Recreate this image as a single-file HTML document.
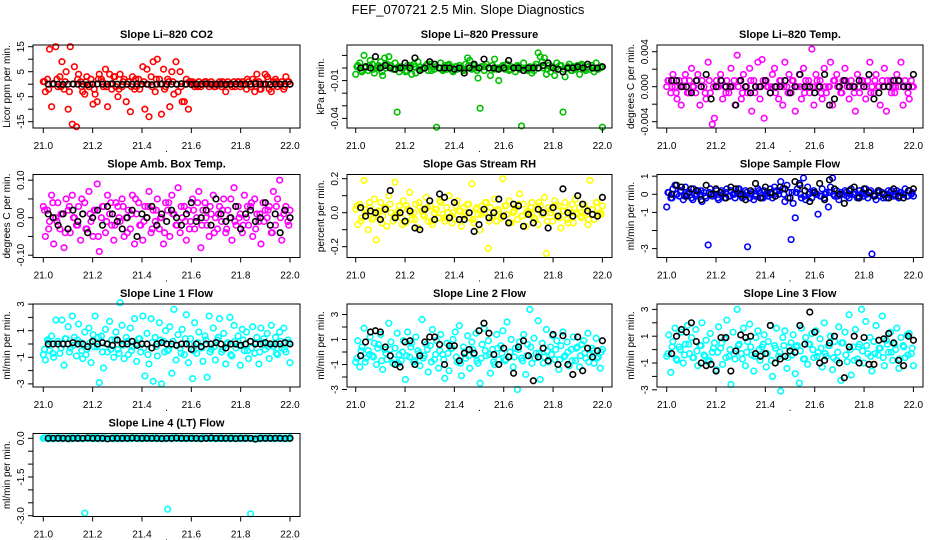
<!DOCTYPE html>
<html><head><meta charset="utf-8"><style>
body{margin:0;background:#fff}
svg{display:block;font-family:"Liberation Sans",sans-serif}
</style></head><body>
<svg id="fig" width="936" height="540" viewBox="0 0 936 540" xmlns="http://www.w3.org/2000/svg">
<rect width="936" height="540" fill="#fff"/>
<text x="468" y="14" font-size="13" text-anchor="middle">FEF_070721  2.5 Min. Slope Diagnostics</text>
</svg>
<script>
const co2Color=[1,-3,2,14,-9,0,15,-1,3,9,-2,5,-10,15,-16,7,-17,4,1,-3,-4,3,-1,2,-8,-4,-7,4,2,-1,6,-9,4,-2,3,-1,-5,4,-1,2,-7,1,-11,3,-2,-1,2,0,7,-10,6,-13,3,9,-3,10,2,-12,6,-1,2,-9,5,-4,9,-3,5,-7,-7,2,-10,1,1,-1,0,1,-1,0,1,0,-1,1,0,-1,0,1,-1,0,-3,1,0,-1,1,0,1,-1,1,0,-2,1,-1,2,-3,4,1,-2,0,4,3,-2,-3,1,2,-1,0,1,-2,3,1,0];
const co2Band=[1,-2,0,2,-1,1,-3,0,2,-1,1,0,-2,2,1,-1,0,3,-2,1,0,-1,2,-2,1,0,-1,2,0,-2,1,1,0,-1,0,1,0,-1,0,1,0,-1,0,1,0,0,-1,1,0,2,-1,1,-2,0,2,-1,1,0,-1,1];
const co2Black=[0,0.2,0,-0.1,0,0.1,0,0,-0.2,0,0.1,0,0,0.2,0,-0.1,0,0,0.1,0,0,-0.2,0,0.1,0,0,0,0.2,0,-0.1,0,0,0.1,0,0,0,-0.1,0,0.1,0,0,0,0.2,0,0,-0.1,0,0,0.1,0];
const presColor=[-5,2,4,-3,10,1,-2,6,3,-4,0,2,5,-6,8,3,9,2,-1,4,-35,-3,1,0,-3,2,0,-5,3,-4,5,1,-1,0,2,-2,3,1,-1,-47,0,4,-2,2,-1,3,0,-3,1,-1,2,0,-2,3,8,6,-1,2,0,-8,-32,1,-2,3,0,-6,2,7,-1,-10,0,2,-1,3,-2,1,0,-3,2,-1,-46,4,0,-2,1,-4,-2,3,12,9,5,8,-5,2,-3,1,-6,4,-1,2,-35,-7,0,3,-2,1,-1,2,-5,3,0,-2,1,-1,2,-3,4,-1,0,-47];
const presBand=[1,-2,0,2,-1,1,-3,0,2,-1,1,0,-2,2,1,-1,0,3,-2,1,0,-1,2,-2,1,0,-1,2,0,-2,1,1,0,-1,0,1,0,-1,0,1,0,-1,0,1,0,0,-1,1,0,2,-1,1,-2,0,2,-1,1,0,-1,1];
const presBlack=[0,1,0,9,0,2,0,-1,0,4,0,8,-2,0,5,3,0,0,0,-1,0,-4,0,3,0,7,0,0,-1,0,6,0,0,-2,0,0,0,2,4,0,-1,-3,0,0,1,0,3,0,0,1];
const tempColor=[0,.7,-.7,1.4,0,-1.4,.7,-2.1,0,1.4,-.7,.7,2.1,0,-.7,1.4,-2.1,.7,0,-1.4,2.8,-.7,-4.3,-3.6,.7,0,1.4,-1.4,0,.7,-.7,2.1,0,-2.1,3.6,.7,-1.4,1.4,0,-.7,2.1,-2.8,.7,0,2.8,-1.4,3.1,-3.6,.7,0,-.7,1.4,2.1,0,-1.4,.7,-2.1,2.8,0,1.4,-.7,.7,-2.8,0,1.4,-1.4,2.1,.7,0,-.7,4.3,-2.1,1.4,0,.7,-1.4,2.1,-.7,0,2.8,-2.1,.7,1.4,0,-.7,.7,2.1,0,-1.4,.7,0,-2.8,1.4,-.7,.7,0,-1.4,.7,2.8,0,-.7,1.4,0,-2.1,.7,2.1,-2.8,0,.7,0,-.7,1.4,0,2.8,-2.1,.7,0,-1.4,.7,0];
const tempBand=[.7,0,-.7,0,.7,-.7,0,.7,0,-.7,.7,0,0,.7,-.7,0,.7,0,-.7,0,.7,-.7,0,.7,0,0,-.7,.7,0,-.7,.7,0,0,-.7,.7,0,.7,-.7,0,0,.7,0,-.7,.7,0,-.7,0,.7,0,-.7,.7,0,0,.7,-.7,0,.7,0,-.7,0];
const tempBlack=[.7,.7,0,0,-.7,.7,0,1.4,-1.4,0,.7,0,0,-2.1,.7,0,-.7,0,0,.7,-.7,0,0,.7,-.7,0,1.4,0,0,-.7,0,1.4,-2.1,-1.4,0,.7,0,0,.7,0,1.4,-1.4,-.7,0,0,.7,.7,0,0,1.4];
const ambColor=[3,-5,2,-1,6,-7,0,4,-3,1,-8,5,2,-4,6,0,-2,3,-6,1,4,-3,7,-1,-5,2,9,-9,0,3,-4,6,1,-2,-6,4,3,-1,5,-5,0,2,-3,6,-7,1,4,-2,-6,3,0,7,-4,2,-1,5,-3,0,-7,4,2,-5,6,1,-2,8,-4,0,3,-6,2,-1,5,-3,0,7,-8,2,4,-2,-5,1,6,0,-3,3,-1,5,-4,2,0,-6,8,-2,3,1,-4,6,0,-2,3,-5,5,1,-1,-7,4,2,0,3,-4,7,-2,5,10,-6,1,3,-1,2];
const ambBand=[2,-3,4,-1,1,-4,3,0,-2,5,-3,1,2,-5,3,-1,4,-2,0,3,-4,1,5,-2,-1,3,-3,2,0,-4,4,1,-2,3,-1,-3,2,4,-2,0,3,-4,1,2,-3,5,-1,0,-2,3,4,-3,1,-1,2,-4,3,0,2,-2];
const ambBlack=[1,0,-2,1,-3,2,-1,1,-4,0,2,-2,3,1,-1,-3,0,2,-5,1,0,3,-2,1,-1,2,0,-2,1,4,-1,0,2,-2,5,1,-1,0,3,-3,1,2,-1,0,4,-2,1,-4,2,0];
const rhColor=[2,-7,5,-3,19,0,-10,3,-4,8,-16,1,6,-2,3,-8,10,0,-5,18,-1,4,-3,7,-6,2,12,-4,0,5,-9,3,1,-2,9,-5,4,-7,0,2,-3,6,-1,-5,3,10,-2,0,-4,7,1,-8,3,0,5,-3,17,-6,2,-1,-10,4,0,6,-21,3,-2,8,-5,1,-3,20,4,-1,7,-6,0,3,-4,11,-2,5,-8,1,0,6,-3,2,-7,4,-1,9,-24,3,0,-5,7,-2,4,-9,1,6,-4,2,0,-6,8,-1,3,-3,5,0,-7,19,2,-4,6,-1,0,4];
const rhBand=[4,-5,2,6,-3,0,-6,3,5,-2,1,-7,4,0,-4,6,-1,3,-5,2,7,-3,0,-6,4,1,-2,5,-4,3,-1,6,-5,0,2,-3,4,-6,1,5,-2,0,3,-4,6,-1,-5,2,4,-3,1,-6,5,0,-2,3,-4,2,6,-1];
const rhBlack=[3,-2,1,0,-4,2,13,-3,0,-5,1,-9,-10,2,7,-4,11,9,-3,6,-4,-4,0,-11,-7,2,-3,0,8,-2,-6,5,4,-8,-1,-6,2,0,-9,3,-2,14,0,-2,10,5,1,-1,-2,9];
const sampColor=[-.7,.1,-.2,.3,.5,0,-.1,.2,-.3,.4,0,.1,-.2,.3,-.1,.2,0,-.4,.1,-.2,-2.8,.3,-.1,0,.2,-.3,.1,0,-.2,.3,-.1,.2,0,-.2,.1,.3,-.1,0,.2,-2.9,-.2,.1,-.3,0,.3,.1,-.2,.2,0,-.1,.3,-.2,.4,.2,0,.7,.3,-.4,.5,.1,-2.5,-.5,-1.3,.3,.6,-.2,.9,-.3,.4,.1,-.2,.2,0,-1.1,-.1,.3,-.2,.1,-.7,.4,.9,-.1,.2,-.3,.1,0,.2,-.1,-.2,.3,0,.1,-.2,.2,0,-.1,.3,-.2,.1,-3.3,0,-.3,.2,-.1,.1,0,-.2,.2,.1,-.1,0,.2,-.2,.1,0,.3,-.1,.2,0,-.1];
const sampBand=[.1,-.2,0,.2,-.1,.1,-.3,0,.2,-.1,.1,0,-.2,.2,.1,-.1,0,.3,-.2,.1,0,-.1,.2,-.2,.1,0,-.1,.2,0,-.2,.1,.1,0,-.1,0,.1,0,-.1,0,.1,0,-.1,0,.1,0,0,-.1,.1,0,.2,-.1,.1,-.2,0,.2,-.1,.1,0,-.1,.1];
const sampBlack=[0,.5,.4,-.1,.3,.2,-.3,.5,0,.3,.1,-.2,.4,.3,0,-.3,.2,.6,-.2,.4,.1,-.1,.4,.3,-.2,.7,.5,.2,-.4,.1,.6,-.3,.8,.3,0,-.5,.2,.4,-.2,.3,.1,-.1,.2,0,-.2,.3,-.1,-.2,.2,.3];
const l1Color=[-.8,-1.2,.3,-.5,.6,-1,1.8,.2,-.7,1.8,-1.6,.4,1.3,-.3,2.1,.5,-.9,1.5,.1,-1.1,.9,-.4,1.2,-1.4,.7,2.1,-.2,-2.9,.6,-1.8,1.1,-.6,1.7,.3,-1,.9,-.4,3.1,1.4,-1.1,.5,-.8,1.2,-.2,1.9,-1.3,.4,-.6,2.1,-2.4,.8,-1.5,1.9,-2.8,.5,-.9,1.6,-3,.2,1,-.5,1.3,-2.2,2.6,-1.2,.7,-.3,1.1,-.8,2.2,-1.4,.4,-2.6,1.6,-.7,.9,-.2,-1.3,.6,-2.5,2.1,-.4,1.2,-1.2,.3,1.9,-.6,.8,-1.5,.1,2,-.9,1.4,-.3,.6,-1.6,1.1,-.5,.9,-1.1,.2,1.3,-.7,.5,-1.5,1.2,.1,-.4,.8,-1.1,1.4,-.2,.5,-.8,.9,-.3,1.2,-.6,.3,-1.4];
const l1Band=[-.4,.2,-.7,0,-.3,.4,-.6,-.1,.3,-.5,-.8,.1,-.2,.5,-.6,0,-.4,.3,-.7,-.1,.2,-.5,0,.4,-.3,-.8,.1,-.2,.3,-.6,-.4,.2,-.1,-.7,.4,0,-.5,.1,-.3,.3,-.6,-.2,.5,-.4,0,-.8,.2,-.1,.3,-.5,-.3,.1,-.6,.4,-.2,0,-.7,.2,-.4,.1];
const l1Black=[0,0,0,0,0,.1,0,0,-.2,.2,0,.1,0,-.1,.3,0,0,.2,-.1,0,0,-.3,0,.1,0,0,-.1,0,0,-.4,0,-.2,0,0,.1,0,-.3,0,0,-.1,0,.2,0,0,.1,0,0,0,.1,0];
const l2Color=[-.8,.9,-1.2,.4,1.9,-.5,.1,1.2,-.3,.7,-1,.6,1.4,-1.4,.2,-.6,2.3,.8,-.9,.3,1.5,-.2,-.7,.9,-2.2,1.6,-.4,.7,-.8,1.2,.1,-1.1,2.6,-.3,.6,-1.6,.5,1.8,-.6,.9,-1.3,1.4,-.2,-2.1,.7,-1.5,.3,1,1.6,-.8,2.1,-1.9,.4,-.5,1.3,-1.3,.8,-.2,1.5,-.9,-2.5,.6,1.9,-.3,.9,-1.7,.2,-1,1.4,-.6,.5,1.7,-.7,2.4,-.4,1,-1.2,.3,-3,.8,-.5,1.4,-1.8,.6,3.4,-.9,1.1,-.1,2.5,-2.2,.7,-.4,1.8,-.8,.4,1.3,-.6,.9,-1.4,.5,1.6,-.3,.8,-1.1,.2,1.2,-.7,.4,-1.2,.6,.9,-.5,1.5,-.2,.3,-.9,1.1,-.4,-1.3,.2];
const l2Band=[-.5,.1,-.8,-.2,-.4,.3,-.7,-.1,.2,-.6,-.9,0,-.3,.4,-.7,-.1,-.5,.2,-.8,-.2,.1,-.6,-.1,.3,-.4,-.9,0,-.3,.2,-.7,-.5,.1,-.2,-.8,.3,-.1,-.6,0,-.4,.2,-.7,-.3,.4,-.5,-.1,-.9,.1,-.2,.2,-.6,-.4,0,-.7,.3,-.3,-.1,-.8,.1,-.5,0];
const l2Black=[-.3,.8,1.6,1.7,1.6,.4,-.3,-1,-1.2,.8,.9,-1,-.3,.8,1.2,1.2,.6,-1,.5,.5,-.7,-.1,.2,-.1,1.7,2.3,1.5,-.2,-1,.3,-.4,-1.7,.4,.9,-.3,-2.3,-.4,.3,-.7,1.4,-1,1.3,-1,-1.8,1.2,-1.5,.3,-.4,.1,.9];
const l3Color=[-.5,1.1,-1.7,.6,1.6,-.8,.2,1.3,-1,.4,1.8,-.3,.9,-.6,1.5,-1.2,.3,2,-.4,.7,-.9,1.2,-.2,.5,-1.5,1.7,.1,-1.1,.8,2.2,-.5,-2.6,1.3,-.7,3,.4,-.3,1.6,-1.2,.6,1.9,-.4,-1.6,.9,1.4,-.8,.2,1.1,-1.3,.6,1.8,-2,.3,1.6,-.5,-3.1,.9,1.4,-1.4,.2,.5,1.1,-1.8,.3,-2.5,1.6,-.7,.9,-1.1,.4,1.2,-.6,1.4,-.2,.8,-1.3,2,-.5,.3,1,-1.5,.6,-.8,1.7,-2.3,.5,1.3,-.9,2.6,-1.9,.2,1.5,-.7,.4,3,-1,2.1,-.3,.9,-1.6,.6,1.8,-.4,.1,2.5,-1.2,.7,-.2,1.3,-.8,.4,1.6,-1.4,.9,.3,-.6,1.1,1.2,-.3,-1.2];
const l3Band=[-.3,.2,-.7,0,-.4,.4,-.6,-.1,.3,-.5,-.8,.1,-.2,.5,-.6,0,-.3,.3,-.7,-.2,.2,-.5,0,.4,-.3,-.8,.1,-.2,.3,-.6,-.4,.2,-.1,-.7,.4,0,-.5,.1,-.3,.3,-.6,-.2,.5,-.4,0,-.8,.2,-.1,.3,-.5,-.3,.1,-.6,.4,-.2,0,-.7,.2,-.4,.1];
const l3Black=[-.3,1,1.5,1.3,2,.6,-1,-1.2,-1.1,-1.6,.9,.9,-1.6,-.1,1.1,.9,1,-.3,-.5,-.3,1.8,-1,-.7,-.5,-.1,-.2,1.8,.4,2.8,1.3,-1,-.8,.5,1,-1,-2.1,.2,1,-1,.9,-1.1,-1.1,.7,.8,1.2,.5,-.8,-1.2,1,.7];
const l4Color=[0,.02,-.01,.03,0,-.02,.01,0,.02,-.01,0,.01,-.02,.03,0,.01,-.01,.02,0,-.02,-2.9,.01,0,.02,-.01,.03,0,-.02,.01,0,.02,-.01,0,.01,-.02,.03,0,.01,-.01,.02,0,-.02,.01,0,.02,-.01,0,.01,-.02,.03,0,.01,-.01,.02,0,-.02,.01,0,.02,-.01,-2.75,.01,-.02,.03,0,.01,-.01,.02,0,-.02,.01,0,.02,-.01,0,.01,-.02,.03,0,.01,-.01,.02,0,-.02,.01,0,.02,-.01,0,.01,-.02,.03,0,.01,-.01,.02,0,-.02,.01,0,-2.93,-.01,0,.01,-.02,.03,0,.01,-.01,.02,0,-.02,.01,0,.02,-.01,0,.01,-.02,.03];
const l4Band=[.01,-.02,0,.02,-.01,.01,-.03,0,.02,-.01,.01,0,-.02,.02,.01,-.01,0,.03,-.02,.01,0,-.01,.02,-.02,.01,0,-.01,.02,0,-.02,.01,.01,0,-.01,0,.01,0,-.01,0,.01,0,-.01,0,.01,0,0,-.01,.01,0,.02,-.01,.01,-.02,0,.02,-.01,.01,0,-.01,.01];
const l4Black=[0,0,0,0,-.01,0,0,0,.01,0,0,0,-.02,0,0,0,0,.01,0,0,0,0,0,-.01,0,0,.01,0,0,0,0,-.01,0,.01,0,0,0,0,-.01,0,0,0,-.03,0,0,0,0,0,-.01,0];

const yTicksCO2=[15,10,5,0,-5,-10,-15], yLabCO2=["15","","5","","-5","","-15"];
const yTicksPres=[0.01,0,-0.01,-0.02,-0.03,-0.04], yLabPres=["","","-0.01","","","-0.04"];
const yTicksTemp=[0.004,0.002,0,-0.002,-0.004], yLabTemp=["0.004","","0.000","","-0.004"];
const yTicksAmb=[0.1,0.05,0,-0.05,-0.1], yLabAmb=["0.10","","0.00","","-0.10"];
const yTicksRH=[0.2,0.1,0,-0.1,-0.2], yLabRH=["0.2","","0.0","","-0.2"];
const yTicksSamp=[1,0,-1,-2,-3], yLabSamp=["1","0","-1","","-3"];
const yTicksLine=[3,2,1,0,-1,-2,-3], yLabLine=["3","","1","","-1","","-3"];
const yTicksL4=[0,-0.5,-1,-1.5,-2,-2.5,-3], yLabL4=["0.0","","","-1.5","","","-3.0"];
const xTicks=[21.0,21.2,21.4,21.6,21.8,22.0], xLabels=["21.0","21.2","21.4","21.6","21.8","22.0"];

const panels=[
 {name:"co2",title:"Slope Li\u2013820 CO2",ylab:"Licor ppm per min.",row:0,col:0,color:"#ff0000",unit:1,cv:co2Color,band:co2Band,bv:co2Black,zero:39.2,ppu:2.5,ticks:yTicksCO2,labs:yLabCO2},
 {name:"pressure",title:"Slope Li\u2013820 Pressure",ylab:"kPa per min.",row:0,col:1,color:"#00c000",unit:0.001,cv:presColor,band:presBand,bv:presBlack,zero:23,ppu:1260,ticks:yTicksPres,labs:yLabPres},
 {name:"li820-temp",title:"Slope Li\u2013820 Temp.",ylab:"degrees C per min.",row:0,col:2,color:"#ff00ff",unit:0.001,cv:tempColor,band:tempBand,bv:tempBlack,zero:41.7,ppu:8750,ticks:yTicksTemp,labs:yLabTemp},
 {name:"amb-box-temp",title:"Slope Amb. Box Temp.",ylab:"degrees C per min.",row:1,col:0,color:"#ff00ff",unit:0.01,cv:ambColor,band:ambBand,bv:ambBlack,zero:43.2,ppu:375,ticks:yTicksAmb,labs:yLabAmb},
 {name:"gas-stream-rh",title:"Slope Gas Stream RH",ylab:"percent per min.",row:1,col:1,color:"#ffff00",unit:0.01,cv:rhColor,band:rhBand,bv:rhBlack,zero:38.2,ppu:170,ticks:yTicksRH,labs:yLabRH},
 {name:"sample-flow",title:"Slope Sample Flow",ylab:"ml/min per min.",row:1,col:2,color:"#0000ff",unit:1,cv:sampColor,band:sampBand,bv:sampBlack,zero:19.8,ppu:18.1,ticks:yTicksSamp,labs:yLabSamp},
 {name:"line1-flow",title:"Slope Line 1 Flow",ylab:"ml/min per min.",row:2,col:0,color:"#00ffff",unit:1,cv:l1Color,band:l1Band,bv:l1Black,zero:40,ppu:13.3,ticks:yTicksLine,labs:yLabLine},
 {name:"line2-flow",title:"Slope Line 2 Flow",ylab:"ml/min per min.",row:2,col:1,color:"#00ffff",unit:1,cv:l2Color,band:l2Band,bv:l2Black,zero:48,ppu:12.5,ticks:yTicksLine,labs:yLabLine},
 {name:"line3-flow",title:"Slope Line 3 Flow",ylab:"ml/min per min.",row:2,col:2,color:"#00ffff",unit:1,cv:l3Color,band:l3Band,bv:l3Black,zero:45.6,ppu:13.4,ticks:yTicksLine,labs:yLabLine},
 {name:"line4-flow",title:"Slope Line 4 (LT) Flow",ylab:"ml/min per min.",row:3,col:0,color:"#00ffff",unit:1,cv:l4Color,band:l4Band,bv:l4Black,zero:4.8,ppu:25.8,ticks:yTicksL4,labs:yLabL4}
];
const colLeft=[33,347,657], colX0=[43.3,355.7,666.7], colRight=[300,612,923];
const NS="http://www.w3.org/2000/svg";
const svg=document.getElementById("fig");
function mk(tag,attrs,parent){const e=document.createElementNS(NS,tag);for(const k in attrs)e.setAttribute(k,attrs[k]);parent.appendChild(e);return e;}

panels.forEach(p=>{
 const top=45+p.row*129.5, bot=top+83;
 const L=colLeft[p.col], R=colRight[p.col], x0=colX0[p.col];
 const xs=v=>x0+(v-21)*246.7;
 const ys=v=>top+p.zero-v*p.ppu;
 const g=mk("g",{},svg);
 
 
 const t=mk("text",{x:(L+R)/2,y:top-7,"font-size":"11","font-weight":"bold","text-anchor":"middle"},g);
 t.textContent=p.title;
 
 
 const pts=mk("g",{fill:"none","stroke-width":"1.6"},g);
 
 
 p.band.forEach((v,i)=>{
  const c=mk("circle",{cx:xs(21.005+i*0.99/(p.band.length-1)),cy:ys(v*p.unit),r:2.8,stroke:p.color},pts);
  
  
 });
 p.cv.forEach((v,i)=>{
  const c=mk("circle",{cx:xs(21+i/(p.cv.length-1)),cy:ys(v*p.unit),r:2.8,stroke:p.color},pts);
  
  
 });
 p.bv.forEach((v,i)=>{
  const c=mk("circle",{cx:xs(21.02+i*0.98/(p.bv.length-1)),cy:ys(v*p.unit),r:2.8,stroke:"#000"},pts);
  
  
 });
 const box=mk("rect",{x:L,y:top,width:R-L,height:83,fill:"none",stroke:"#000","stroke-width":"1"},g);
 
 
 const xa=mk("g",{},g);
 
 
 xTicks.forEach((v,i)=>{
  mk("line",{x1:xs(v),x2:xs(v),y1:bot,y2:bot+5,stroke:"#000"},xa);
  const tl=mk("text",{x:xs(v),y:bot+21,"font-size":"10","text-anchor":"middle"},xa);
  tl.textContent=xLabels[i];
 });
 const dot=mk("text",{x:(L+R)/2,y:bot+24,"font-size":"10","text-anchor":"middle"},xa);
 dot.textContent=".";
 const ya=mk("g",{},g);
 
 
 p.ticks.forEach((v,i)=>{
  const y=ys(v);
  mk("line",{x1:L-5,x2:L,y1:y,y2:y,stroke:"#000"},ya);
  if(p.labs[i]){
   const tl=mk("text",{x:L-9,y:y,"font-size":"10","text-anchor":"middle",transform:`rotate(-90 ${L-9} ${y})`},ya);
   tl.textContent=p.labs[i];
  }
 });
 const yt=mk("text",{x:L-23,y:top+41.5,"font-size":"10","text-anchor":"middle",transform:`rotate(-90 ${L-23} ${top+41.5})`},g);
 yt.textContent=p.ylab;
 
 
});
</script>
</body></html>
